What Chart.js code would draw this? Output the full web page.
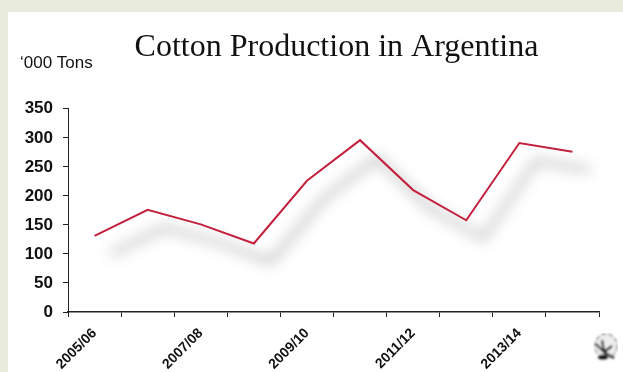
<!DOCTYPE html>
<html>
<head>
<meta charset="utf-8">
<script src="https://cdn.jsdelivr.net/npm/chart.js@4"></script>
<style>
html,body{margin:0;padding:0;width:623px;height:372px;overflow:hidden;background:#e9ecdc}
#panel{position:absolute;left:8px;top:12px;width:615px;height:360px;background:#fff}
#wrap{position:absolute;left:0;top:0;width:623px;height:372px}
#icon{position:absolute;left:593px;top:333px;width:25px;height:29px}
</style>
</head>
<body>
<div id="panel"></div>
<div id="wrap"><canvas id="c" width="623" height="372"></canvas></div>
<svg id="icon" viewBox="0 0 25 29" aria-hidden="true">
  <defs><filter id="b"><feGaussianBlur stdDeviation="0.8"/></filter></defs>
  <g filter="url(#b)">
    <ellipse cx="13" cy="13" rx="11" ry="12" fill="#eee" stroke="#888" stroke-width="1.3" stroke-dasharray="5 2"/>
    <path d="M3 11 L11 19 L9 7 M11 19 L19 13 M11 19 L21 25" stroke="#111" stroke-width="2.2" fill="none"/>
    <ellipse cx="10" cy="24" rx="5" ry="2.5" fill="#111"/>
  </g>
</svg>
<script>
const categories = ['2005/06','2006/07','2007/08','2008/09','2009/10','2010/11','2011/12','2012/13','2013/14','2014/15'];
const shownLabels = ['2005/06','2007/08','2009/10','2011/12','2013/14'];
const production = [131,176,151,118,226,296,210,158,291,276];
const yMin = 0, yMax = 350, yStep = 50;

const lineShadow = {
  id:'lineShadow',
  beforeDatasetDraw(chart){
    const c = chart.ctx; c.save();
    c.shadowColor = 'rgba(0,0,0,0.7)';
    c.shadowBlur = 14;
    c.shadowOffsetX = 17;
    c.shadowOffsetY = 18;
  },
  afterDatasetDraw(chart){ chart.ctx.restore(); }
};
const titleNudge = {
  id:'titleNudge',
  afterLayout(chart){
    chart.titleBlock.left += 27;
    chart.titleBlock.right += 27;
  }
};

new Chart(document.getElementById('c'), {
  type:'line',
  data:{ labels:categories, datasets:[{
    label:'Cotton Production', data:production,
    borderColor:'#c2203c', borderWidth:2, pointRadius:0, tension:0, fill:false,
    borderJoinStyle:'miter', clip:false
  }]},
  plugins:[lineShadow,titleNudge],
  options:{
    responsive:false, animation:false,
    layout:{ padding:{ left:20, right:24, top:28, bottom:0 } },
    plugins:{
      legend:{display:false}, tooltip:{enabled:false},
      title:{ display:true, text:'Cotton Production in Argentina', color:'#111',
        font:{ family:'"Liberation Serif",serif', size:32, weight:'normal' }, padding:{top:0,bottom:-13} },
      subtitle:{ display:true, text:'‘000 Tons', align:'start', color:'#111',
        font:{ family:'"Liberation Sans",Arial,sans-serif', size:17, weight:'normal' }, padding:{top:0,bottom:35} }
    },
    scales:{
      x:{ offset:true,
        afterFit(s){ s.height = 60; },
        grid:{ offset:true, drawOnChartArea:false, drawTicks:true, tickLength:5, tickColor:'#222', tickWidth:1 },
        border:{ color:'#222', width:1.5 },
        ticks:{ autoSkip:false, maxRotation:45, minRotation:45, padding:8, color:'#111',
          font:{ family:'"Liberation Sans",Arial,sans-serif', size:14, weight:'bold' },
          callback(v){ const l=this.getLabelForValue(v); return shownLabels.includes(l)?l:''; } }
      },
      y:{ min:yMin, max:yMax,
        afterFit(s){ s.width = 48; },
        grid:{ drawOnChartArea:false, tickLength:5, tickColor:'#222', tickWidth:1 },
        border:{ color:'#222', width:1 },
        ticks:{ stepSize:yStep, padding:10, color:'#111',
          font:{ family:'"Liberation Sans",Arial,sans-serif', size:17, weight:'bold' } }
      }
    }
  }
});
</script>
</body>
</html>
